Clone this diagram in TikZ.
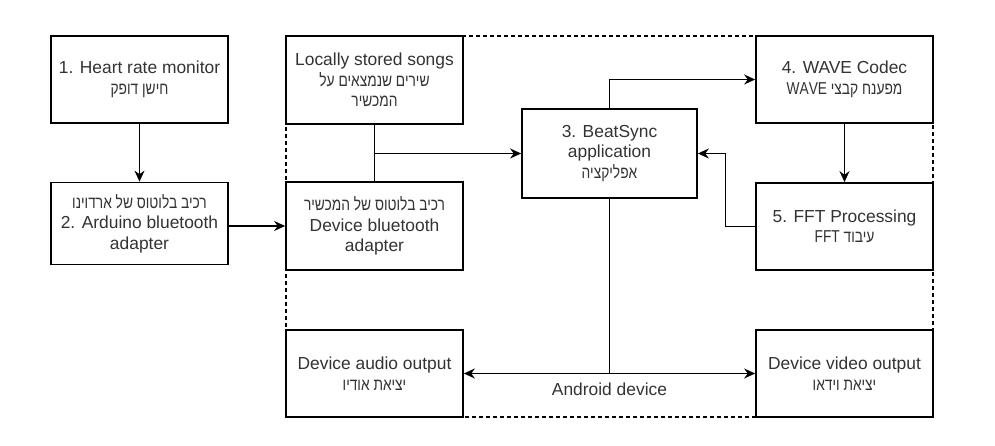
\documentclass[tikz,border=0pt]{standalone}
\usepackage{fontspec}
\setmainfont{Liberation Sans}
\newfontfamily\hebfont[Script=Hebrew,FakeStretch=0.8]{Liberation Sans}
\TeXXeTstate=1
\newcommand{\heb}[1]{{\hebfont\fontsize{17.2}{20.5}\selectfont\beginR #1\endR}}
\usetikzlibrary{arrows.meta,positioning,calc}
\definecolor{cT}{HTML}{333333}
\tikzset{
  box/.style={draw=black,line width=1.7pt,fill=white,minimum width=177pt,
              minimum height=87pt,inner sep=2pt,align=center,text=cT,
              font=\fontsize{17.4}{20.5}\selectfont},
  flow/.style={-{Stealth[length=11pt,width=10pt]},line width=1.6pt},
  link/.style={line width=1.6pt},
  frame/.style={dash pattern=on 4pt off 3pt,line width=1.2pt},
  lbl/.style={text=cT,font=\fontsize{17.4}{20.5}\selectfont},
}

\begin{document}
\begin{tikzpicture}[x=1pt,y=-1pt]
  \useasboundingbox (0,0) rectangle (995,446);
  % outside the phone
  \node[box] (hr) at (139.5,79.5) {1. Heart rate monitor\\\heb{חישן דופק}};
  \node[box,minimum height=82pt] (ard) at (139.5,223.5)
    {\heb{רכיב בלוטוס של ארדוינו}\\2. Arduino bluetooth\\adapter};
  % android device
  \draw[frame] (286,36) rectangle (933,417);
  \node[box,minimum height=88pt] (songs) at (374.5,80)
    {Locally stored songs\\\heb{שירים שנמצאים על}\\\heb{המכשיר}};
  \node[box,minimum height=88pt] (devbt) at (374.5,226)
    {\heb{רכיב בלוטוס של המכשיר}\\Device bluetooth\\adapter};
  \node[box,minimum width=175pt,minimum height=89pt] (app) at (609.5,153.5)
    {3. BeatSync\\application\\\heb{אפליקציה}};
  \node[box] (wave) at (844.5,79.5)
    {4. WAVE Codec\\\heb{מפענח קבצי \beginL WAVE\endL}};
  \node[box] (fft) at (844.5,226.5)
    {5. FFT Processing\\\heb{עיבוד \beginL FFT\endL}};
  \node[box] (aud) at (374.5,373.5) {Device audio output\\\heb{יציאת אודיו}};
  \node[box] (vid) at (844.5,373.5) {Device video output\\\heb{יציאת וידאו}};
  \node[lbl] (andr) at (609.5,389) {Android device};
  % connectors
  \draw[flow] (hr) -- (ard);
  \draw[flow] (ard.east |- devbt.west) -- (devbt.west);
  \draw[flow] (songs) |- (app);
  \draw[link] (devbt.north) -- (devbt.north |- app.west);
  \draw[flow] (app.north) |- (wave.west);
  \draw[flow] (wave) -- (fft);
  \draw[flow] (fft.west) -- ++(-29.5,0) |- (app.east);
  \draw[flow] (app.south) |- (aud.east);
  \draw[flow] (app.south) |- (vid.west);
\end{tikzpicture}
\end{document}
